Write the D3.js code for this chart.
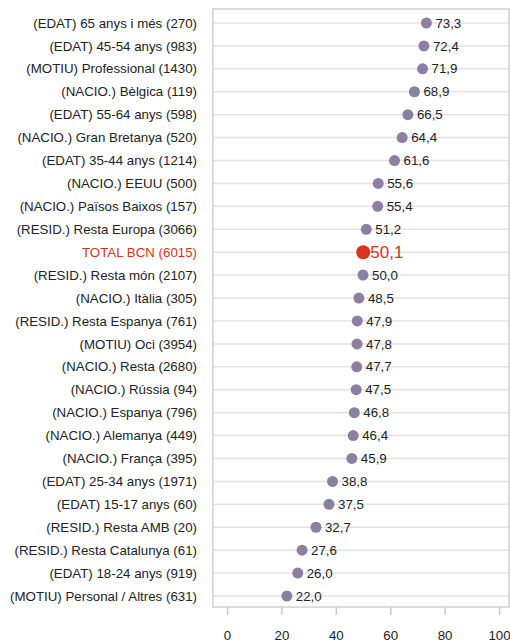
<!DOCTYPE html>
<html lang="ca">
<head>
    <meta charset="UTF-8">
    <title>Dot chart</title>
    <script src="https://d3js.org/d3.v7.min.js"></script>
    <style>
        body { margin: 0; background: #fff; }
        svg { display: block; font-family: "Liberation Sans", Arial, sans-serif; }
        .grid line { stroke: #e3e3e3; stroke-width: 1.5; }
        .frame { fill: none; stroke: #d0d0d0; stroke-width: 1.5; }
        .dot { fill: #8d7fa2; }
        .lbl { font-size: 13.3px; fill: #222; }
        .val { font-size: 13.3px; fill: #222; }
        .total { fill: #d9321d; }
    </style>
</head>
<body>
<div id="chart"></div>
<script>
    const width = 510, height = 643;

    // categories (top to bottom) and values
    const categories = [
        "(EDAT) 65 anys i més (270)",
        "(EDAT) 45-54 anys (983)",
        "(MOTIU) Professional (1430)",
        "(NACIO.) Bèlgica (119)",
        "(EDAT) 55-64 anys (598)",
        "(NACIO.) Gran Bretanya (520)",
        "(EDAT) 35-44 anys (1214)",
        "(NACIO.) EEUU (500)",
        "(NACIO.) Països Baixos (157)",
        "(RESID.) Resta Europa (3066)",
        "TOTAL BCN (6015)",
        "(RESID.) Resta món (2107)",
        "(NACIO.) Itàlia (305)",
        "(RESID.) Resta Espanya (761)",
        "(MOTIU) Oci (3954)",
        "(NACIO.) Resta (2680)",
        "(NACIO.) Rússia (94)",
        "(NACIO.) Espanya (796)",
        "(NACIO.) Alemanya (449)",
        "(NACIO.) França (395)",
        "(EDAT) 25-34 anys (1971)",
        "(EDAT) 15-17 anys (60)",
        "(RESID.) Resta AMB (20)",
        "(RESID.) Resta Catalunya (61)",
        "(EDAT) 18-24 anys (919)",
        "(MOTIU) Personal / Altres (631)"
    ];
    const values = [73.3, 72.4, 71.9, 68.9, 66.5, 64.4, 61.6, 55.6, 55.4, 51.2, 50.1, 50.0,
        48.5, 47.9, 47.8, 47.7, 47.5, 46.8, 46.4, 45.9, 38.8, 37.5, 32.7, 27.6, 26.0, 22.0];
    const totalName = "TOTAL BCN (6015)";
    const xTicks = [0, 20, 40, 60, 80, 100];

    const data = categories.map((c, i) => ({ name: c, value: values[i] }));
    const fmt = v => v.toFixed(1).replace(".", ",");

    const svg = d3.select("#chart").append("svg")
        .attr("width", width).attr("height", height);

    const x = d3.scaleLinear().domain([0, 100]).range([227, 499]);
    const y = d3.scalePoint().domain(categories).range([23, 596]);

    const plotLeft = x(-5.2), plotRight = 509, plotTop = 9, plotBottom = 607;

    // gridlines
    svg.append("g").attr("class", "grid")
        .selectAll("line").data(categories).join("line")
        .attr("x1", plotLeft).attr("x2", plotRight)
        .attr("y1", d => y(d)).attr("y2", d => y(d));

    svg.append("rect").attr("class", "frame")
        .attr("x", plotLeft).attr("y", plotTop)
        .attr("width", plotRight - plotLeft).attr("height", plotBottom - plotTop);

    // x axis
    const xAxis = svg.append("g")
        .attr("transform", `translate(0,${plotBottom})`)
        .call(d3.axisBottom(x).tickValues(xTicks).tickSize(8).tickPadding(16));
    xAxis.select(".domain").remove();
    xAxis.selectAll(".tick line").attr("stroke", "#c8c8c8").attr("stroke-width", 1.5);
    xAxis.selectAll(".tick text")
        .attr("fill", "#222")
        .style("font-size", "13.3px")
        .style("font-family", "'Liberation Sans', Arial, sans-serif");

    // category labels
    svg.append("g").selectAll("text").data(data).join("text")
        .attr("class", d => d.name === totalName ? "lbl total" : "lbl")
        .attr("x", 197)
        .attr("y", d => y(d.name))
        .attr("dy", "0.35em")
        .attr("text-anchor", "end")
        .text(d => d.name);

    // dots
    svg.append("g").selectAll("circle").data(data).join("circle")
        .attr("class", d => d.name === totalName ? "dot total" : "dot")
        .attr("cx", d => x(d.value))
        .attr("cy", d => y(d.name))
        .attr("r", d => d.name === totalName ? 7 : 5.5);

    // value labels
    svg.append("g").selectAll("text").data(data).join("text")
        .attr("class", d => d.name === totalName ? "val total" : "val")
        .attr("x", d => x(d.value) + (d.name === totalName ? 7 : 9))
        .attr("y", d => y(d.name))
        .attr("dy", "0.35em")
        .style("font-size", d => d.name === totalName ? "17px" : null)
        .text(d => fmt(d.value));
</script>
</body>
</html>
